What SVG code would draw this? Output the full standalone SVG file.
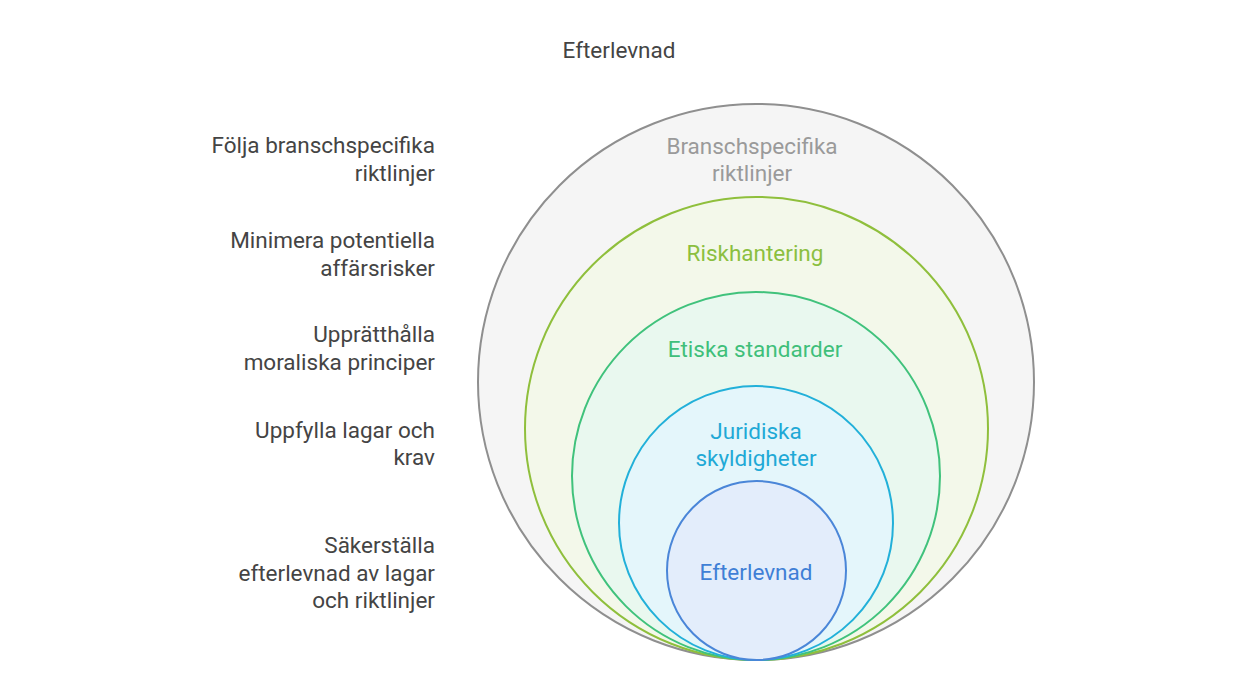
<svg xmlns="http://www.w3.org/2000/svg" width="1240" height="700" viewBox="0 0 1240 700">
<style>
text{font-family:Roboto,"Liberation Sans",sans-serif;font-size:22.5px}
.l{fill:#444;text-anchor:end}
.c{text-anchor:middle}
.ring{stroke-width:2}
</style>
<rect width="1240" height="700" fill="#fff"/>
<text x="619" y="58" class="c" fill="#444">Efterlevnad</text>
<g id="ring-bransch"><circle class="ring" cx="756" cy="382" r="278" fill="#f5f5f5" stroke="#8f8f8f"/>
<text x="752" y="154" class="c" fill="#9a9a9a">Branschspecifika</text><text x="752" y="181" class="c" fill="#9a9a9a">riktlinjer</text></g>
<g id="ring-risk"><circle class="ring" cx="756.5" cy="428.5" r="231.5" fill="#f3f8ea" stroke="#8fbf3c"/>
<text x="755" y="261" class="c" fill="#8bbf3f">Riskhantering</text></g>
<g id="ring-etiska"><circle class="ring" cx="756" cy="476" r="184" fill="#e9f8ef" stroke="#40c27c"/>
<text x="755" y="357" class="c" fill="#3fbf7a">Etiska standarder</text></g>
<g id="ring-juridiska"><circle class="ring" cx="756" cy="523" r="137" fill="#e4f6fb" stroke="#22b0d9"/>
<text x="756" y="439" class="c" fill="#1fa9d6">Juridiska</text><text x="756" y="466" class="c" fill="#1fa9d6">skyldigheter</text></g>
<g id="ring-efterlevnad"><circle class="ring" cx="756.5" cy="570.5" r="89.5" fill="#e3edfb" stroke="#4a86d8"/>
<text x="756" y="580" class="c" fill="#3f7fd6">Efterlevnad</text></g>
<g id="labels">
<text x="435" y="153" class="l">Följa branschspecifika</text><text x="435" y="181" class="l">riktlinjer</text>
<text x="435" y="248" class="l">Minimera potentiella</text><text x="435" y="276" class="l">affärsrisker</text>
<text x="435" y="342" class="l">Upprätthålla</text><text x="435" y="370" class="l">moraliska principer</text>
<text x="435" y="438" class="l">Uppfylla lagar och</text><text x="435" y="465" class="l">krav</text>
<text x="435" y="553" class="l">Säkerställa</text><text x="435" y="581" class="l">efterlevnad av lagar</text><text x="435" y="608" class="l">och riktlinjer</text>
</g>
<g id="connectors"></g>
</svg>
